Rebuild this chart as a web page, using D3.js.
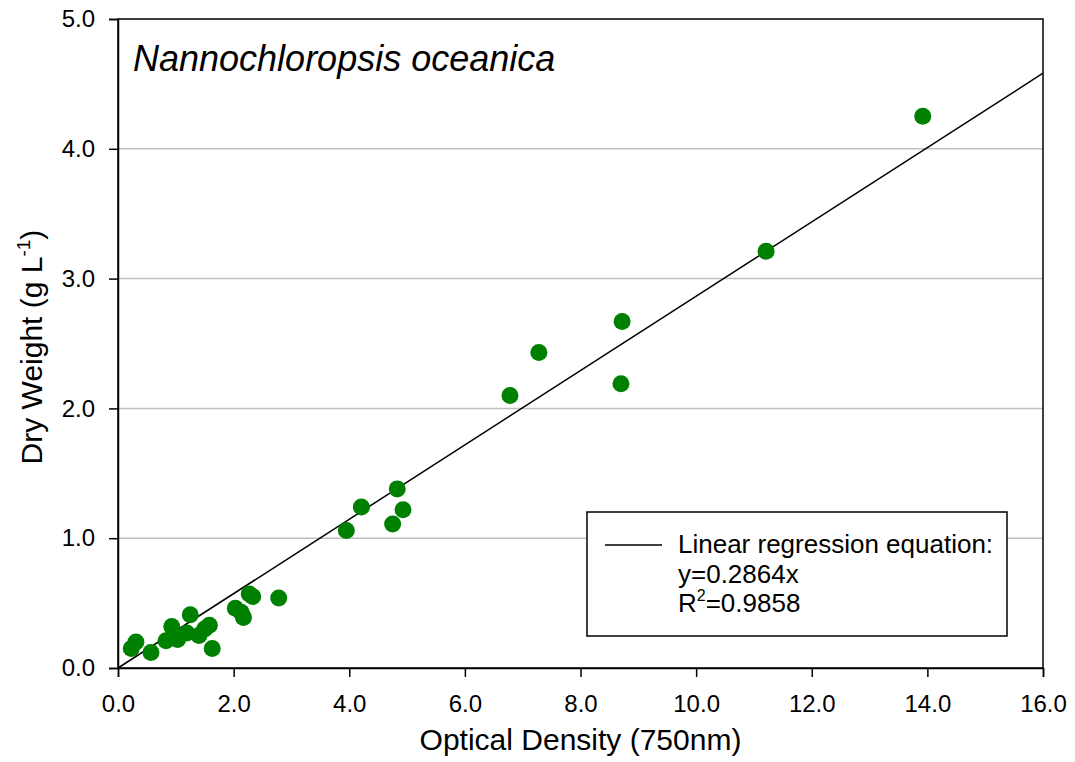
<!DOCTYPE html>
<html><head><meta charset="utf-8">
<script src="https://cdn.jsdelivr.net/npm/d3@7"></script>
<style>body{margin:0;background:#fff;} text{font-family:"Liberation Sans",Arial,sans-serif;}</style>
</head><body><svg id="c" width="1075" height="762"></svg>
<script>
const odValues = [0.23,0.31,0.57,0.83,0.93,1.03,1.25,1.19,1.40,1.50,1.58,1.63,2.03,2.13,2.17,2.27,2.33,2.78,3.95,4.21,4.83,4.93,4.75,6.78,7.28,8.72,8.70,11.21,13.92];
const dwValues = [0.15,0.20,0.12,0.21,0.32,0.22,0.41,0.27,0.25,0.30,0.33,0.15,0.46,0.43,0.39,0.57,0.55,0.54,1.06,1.24,1.38,1.22,1.11,2.10,2.43,2.67,2.19,3.21,4.25];
const slope = 0.2864;
const xTicks = [0,2,4,6,8,10,12,14,16];
const yTicks = [0,1,2,3,4,5];
const gridValues = [1,2,3,4];
const legendLines = ["Linear regression equation:","y=0.2864x"];

const svg = d3.select("#c");
const L=118,R=1043,T=19,B=668;
const x = d3.scaleLinear().domain([0,16]).range([L,R]);
const y = d3.scaleLinear().domain([0,5]).range([B,T]);

svg.append("g").selectAll("line").data(gridValues).join("line")
  .attr("x1",L).attr("x2",R).attr("y1",d=>y(d)).attr("y2",d=>y(d))
  .attr("stroke","#c0c0c0").attr("stroke-width",1.5);

svg.append("rect").attr("x",L).attr("y",T).attr("width",R-L).attr("height",B-T)
  .attr("fill","none").attr("stroke","#000").attr("stroke-width",1.5);

const xa = svg.append("g").attr("transform",`translate(0,${B})`)
  .call(d3.axisBottom(x).tickValues(xTicks).tickFormat(d3.format(".1f")).tickSize(9).tickPadding(18));
const ya = svg.append("g").attr("transform",`translate(${L},0)`)
  .call(d3.axisLeft(y).tickValues(yTicks).tickFormat(d3.format(".1f")).tickSize(9).tickPadding(14));
[xa,ya].forEach(a=>{a.attr("font-size",24).attr("font-family","Liberation Sans, Arial, sans-serif");
  a.select(".domain").attr("stroke","#000").attr("stroke-width",1.5);
  a.selectAll(".tick line").attr("stroke","#000").attr("stroke-width",1.5);
  a.selectAll(".tick text").attr("fill","#000");});

// regression line
svg.append("line").attr("x1",x(0)).attr("y1",y(0)).attr("x2",x(16)).attr("y2",y(slope*16))
  .attr("stroke","#000").attr("stroke-width",1.5);

svg.append("g").selectAll("circle").data(odValues.map((v,i)=>[v,dwValues[i]])).join("circle")
  .attr("cx",d=>x(d[0])).attr("cy",d=>y(d[1])).attr("r",8.5).attr("fill","#008000");

svg.append("text").attr("x",133).attr("y",71).attr("font-size",36).attr("font-style","italic")
  .text("Nannochloropsis oceanica");

svg.append("text").attr("x",(L+R)/2).attr("y",750).attr("text-anchor","middle").attr("font-size",30)
  .text("Optical Density (750nm)");
const yl = svg.append("text").attr("transform",`translate(42,347) rotate(-90)`).attr("text-anchor","middle").attr("font-size",30);
yl.append("tspan").text("Dry Weight (g L");
yl.append("tspan").attr("font-size",19).attr("dy",-12).text("-1");
yl.append("tspan").attr("dy",12).text(")");

// legend
const lg = svg.append("g");
lg.append("rect").attr("x",587).attr("y",512).attr("width",420).attr("height",124).attr("fill","#fff").attr("stroke","#000").attr("stroke-width",1.5);
lg.append("line").attr("x1",605).attr("x2",662).attr("y1",545).attr("y2",545).attr("stroke","#000").attr("stroke-width",1.5);
legendLines.forEach((t,i)=>lg.append("text").attr("x",678).attr("y",553+i*29.5).attr("font-size",26).text(t));
const r2 = lg.append("text").attr("x",678).attr("y",612).attr("font-size",26);
r2.append("tspan").text("R");
r2.append("tspan").attr("font-size",16).attr("dy",-11).text("2");
r2.append("tspan").attr("dy",11).text("=0.9858");
</script></body></html>
